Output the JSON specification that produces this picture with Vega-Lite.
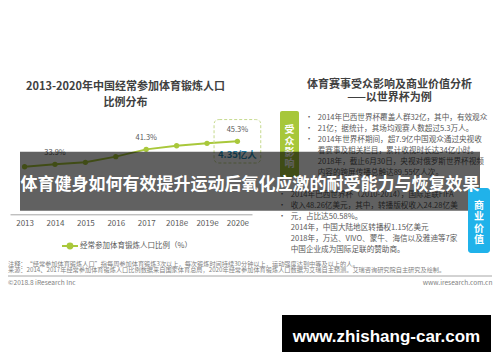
{
  "$schema": "https://vega.github.io/schema/vega-lite/v6.json",
  "width": 500,
  "height": 362,
  "autosize": "none",
  "padding": 0,
  "background": "white",
  "config": {"view": {"stroke": null}, "font": "Noto Sans CJK SC", "text": {"font": "Noto Sans CJK SC"}},
  "datasets": {
    "rate": [
      {"year": "2013", "value": 32.7, "series": "经常参加体育锻炼人口比例（%）"},
      {"year": "2014", "value": 33.9, "label": "33.9%", "series": "经常参加体育锻炼人口比例（%）"},
      {"year": "2015", "value": 34.9, "series": "经常参加体育锻炼人口比例（%）"},
      {"year": "2016", "value": 37.7, "series": "经常参加体育锻炼人口比例（%）"},
      {"year": "2017", "value": 41.3, "label": "41.3%", "series": "经常参加体育锻炼人口比例（%）"},
      {"year": "2018e", "value": 43.1, "series": "经常参加体育锻炼人口比例（%）"},
      {"year": "2019e", "value": 44.3, "series": "经常参加体育锻炼人口比例（%）"},
      {"year": "2020e", "value": 45.3, "label": "45.3%", "population": "4.35亿人", "series": "经常参加体育锻炼人口比例（%）"}
    ]
  },
  "layer": [
    {
      "data": {"name": "rate"},
      "mark": {"type": "line", "strokeWidth": 2},
      "encoding": {
        "x": {"field": "year", "type": "ordinal", "sort": null,
          "scale": {"type": "point", "range": [10, 252], "padding": 0.48},
          "axis": {"title": null, "labelAngle": 0, "ticks": false, "domainColor": "#a6a6a6", "labelColor": "#595959", "labelFontSize": 8, "labelFont": "Noto Sans CJK SC", "labelPadding": 5, "offset": -147.7, "grid": false}},
        "y": {"field": "value", "type": "quantitative",
          "scale": {"domain": [9, 60], "range": [214.6, 111.6], "nice": false, "zero": false}, "axis": null},
        "color": {"field": "series", "type": "nominal", "scale": {"range": ["#a9c83b"]},
          "legend": {"title": null, "orient": "none", "legendX": 61, "legendY": 237, "padding": 0,
            "symbolType": "M-1,0L-0.35,0M0.35,0L1,0M-0.3,0A0.3,0.3,0,1,1,0.3,0A0.3,0.3,0,1,1,-0.3,0Z",
            "symbolSize": 256, "symbolStrokeWidth": 2, "symbolFillColor": "#a9c83b",
            "labelFontSize": 7.5, "labelColor": "#595959", "labelFont": "Noto Sans CJK SC", "labelOffset": 1}}
      }
    },
    {
      "data": {"name": "rate"},
      "mark": {"type": "point", "filled": true, "size": 28, "color": "#a9c83b", "opacity": 1},
      "encoding": {
        "x": {"field": "year", "type": "ordinal", "sort": null},
        "y": {"field": "value", "type": "quantitative"}
      }
    },
    {
      "data": {"name": "rate"},
      "transform": [{"filter": "datum.label != null"}],
      "mark": {"type": "text", "dy": -11, "fontSize": 7.5, "color": "#595959"},
      "encoding": {
        "x": {"field": "year", "type": "ordinal", "sort": null},
        "y": {"field": "value", "type": "quantitative"},
        "text": {"field": "label"}
      }
    },
    {
      "data": {"name": "rate"},
      "transform": [{"filter": "datum.population != null"}],
      "mark": {"type": "text", "dy": 14, "fontSize": 9.5, "fontWeight": "bold", "color": "#2a8db8"},
      "encoding": {
        "x": {"field": "year", "type": "ordinal", "sort": null},
        "y": {"field": "value", "type": "quantitative"},
        "text": {"field": "population"}
      }
    },
    {
      "data": {"name": "rate"},
      "transform": [{"filter": "datum.population != null"}],
      "mark": {"type": "point", "shape": "M-0.78,-0.93L0.78,-0.93Q1,-0.93,1,-0.71L1,0.71Q1,0.93,0.78,0.93L-0.78,0.93Q-1,0.93,-1,0.71L-1,-0.71Q-1,-0.93,-0.78,-0.93Z", "size": 2181, "filled": false, "color": "#c5d98c", "stroke": "#c5d98c", "strokeWidth": 1, "strokeDash": [3, 2], "opacity": 1},
      "encoding": {
        "x": {"field": "year", "type": "ordinal", "sort": null},
        "y": {"field": "value", "type": "quantitative"}
      }
    },
    {
      "data": {"values": [{"t": "2013-2020年中国经常参加体育锻炼人口\n比例分布"}]},
      "mark": {"type": "text", "align": "center", "baseline": "top", "lineBreak": "\n", "lineHeight": 16.7, "fontSize": 11, "fontWeight": "bold", "color": "#404040"},
      "encoding": {"x": {"value": 125.5}, "y": {"value": 80.5}, "text": {"field": "t"}}
    },
    {
      "data": {"values": [{"t": "体育赛事受众影响及商业价值分析\n——以世界杯为例"}]},
      "mark": {"type": "text", "align": "center", "baseline": "top", "lineBreak": "\n", "lineHeight": 13.7, "fontSize": 11, "fontWeight": "bold", "color": "#404040"},
      "encoding": {"x": {"value": 389.5}, "y": {"value": 78.5}, "text": {"field": "t"}}
    },
    {
      "data": {"values": [{"t": "受众影响"}]},
      "mark": {"type": "rect", "color": "#a7c73a", "cornerRadius": 2},
      "encoding": {"x": {"value": 280}, "x2": {"value": 299}, "y": {"value": 111}, "y2": {"value": 177}}
    },
    {
      "data": {"values": [{"t": "受\n众\n影\n响"}]},
      "mark": {"type": "text", "align": "center", "baseline": "top", "lineBreak": "\n", "lineHeight": 11.2, "fontSize": 10, "fontWeight": "bold", "color": "white"},
      "encoding": {"x": {"value": 289.5}, "y": {"value": 125.4}, "text": {"field": "t"}}
    },
    {
      "data": {"values": [{"t": "•\n\n•\n\n•\n"}]},
      "mark": {"type": "text", "align": "center", "baseline": "top", "lineBreak": "\n", "lineHeight": 10.9, "fontSize": 7.6, "color": "#595959"},
      "encoding": {"x": {"value": 309}, "y": {"value": 114.1}, "text": {"field": "t"}}
    },
    {
      "data": {"values": [{"t": "2014年巴西世界杯覆盖人群32亿，其中，有效观众\n21亿；据统计，其场均观赛人数超过5.3万人。\n2014年世界杯期间，超7.9亿中国观众通过央视收\n看赛事及相关栏目，累计收视时长达34亿小时。\n2018年，截止6月30日，央视对俄罗斯世界杯视频\n内容的跨屏传播总触达89.55亿人次。"}]},
      "mark": {"type": "text", "align": "left", "baseline": "top", "lineBreak": "\n", "lineHeight": 10.9, "fontSize": 7.6, "color": "#595959"},
      "encoding": {"x": {"value": 317.7}, "y": {"value": 114.1}, "text": {"field": "t"}}
    },
    {
      "data": {"values": [{"t": "•\n\n\n•\n•\n"}]},
      "mark": {"type": "text", "align": "center", "baseline": "top", "lineBreak": "\n", "lineHeight": 11.06, "fontSize": 7.6, "color": "#595959"},
      "encoding": {"x": {"value": 282}, "y": {"value": 190.8}, "text": {"field": "t"}}
    },
    {
      "data": {"values": [{"t": "2014年巴西世界杯（2010-2014），国际足联FIFA\n收入48.26亿美元，其中，转播版权收入24.28亿美\n元，占比达50.58%。\n2014年，中国大陆地区转播权1.15亿美元\n2018年，万达、VIVO、蒙牛、海信以及雅迪等7家\n中国企业成为国际足联的赞助商。"}]},
      "mark": {"type": "text", "align": "left", "baseline": "top", "lineBreak": "\n", "lineHeight": 11.06, "fontSize": 7.6, "color": "#595959"},
      "encoding": {"x": {"value": 290.7}, "y": {"value": 190.8}, "text": {"field": "t"}}
    },
    {
      "data": {"values": [{"t": "注释：“经常参加体育锻炼人口”指每周参加体育锻炼3次以上，每次锻炼时间持续30分钟以上，运动强度达到中等及以上的人。\n来源：2014、2017年经常参加体育锻炼人口比例数据来自国家体育总局，2020年经常参加体育锻炼人口数据为艾瑞自主预测。艾瑞咨询研究院自主研究及绘制。"}]},
      "mark": {"type": "text", "align": "left", "baseline": "top", "lineBreak": "\n", "lineHeight": 6, "fontSize": 6.2, "color": "#7f7f7f"},
      "encoding": {"x": {"value": 8}, "y": {"value": 260.8}, "text": {"field": "t"}}
    },
    {
      "data": {"values": [{"t": "separator"}]},
      "mark": {"type": "rule", "color": "#a6a6a6", "strokeWidth": 1},
      "encoding": {"x": {"value": 8}, "x2": {"value": 492}, "y": {"value": 276}}
    },
    {
      "data": {"values": [{"t": "©2018.8 iResearch Inc"}]},
      "mark": {"type": "text", "align": "left", "baseline": "middle", "fontSize": 6.6, "color": "#7f7f7f"},
      "encoding": {"x": {"value": 8}, "y": {"value": 283}, "text": {"field": "t"}}
    },
    {
      "data": {"values": [{"t": "www.iresearch.com.cn"}]},
      "mark": {"type": "text", "align": "right", "baseline": "middle", "fontSize": 6.6, "color": "#7f7f7f"},
      "encoding": {"x": {"value": 492.5}, "y": {"value": 283}, "text": {"field": "t"}}
    },
    {
      "data": {"values": [{"t": "overlay"}]},
      "mark": {"type": "rect", "color": "black", "opacity": 0.62},
      "encoding": {"x": {"value": 20}, "x2": {"value": 480}, "y": {"value": 151.7}, "y2": {"value": 210.7}}
    },
    {
      "data": {"values": [{"t": "商业价值"}]},
      "mark": {"type": "rect", "color": "#20b2ea", "cornerRadius": 3},
      "encoding": {"x": {"value": 468}, "x2": {"value": 490}, "y": {"value": 188}, "y2": {"value": 253}}
    },
    {
      "data": {"values": [{"t": "商\n业\n价\n值"}]},
      "mark": {"type": "text", "align": "center", "baseline": "top", "lineBreak": "\n", "lineHeight": 11.5, "fontSize": 10, "fontWeight": "bold", "color": "white"},
      "encoding": {"x": {"value": 479}, "y": {"value": 200.9}, "text": {"field": "t"}}
    },
    {
      "data": {"values": [{"t": "体育健身如何有效提升运动后氧化应激的耐受能力与恢复效果"}]},
      "mark": {"type": "text", "align": "center", "baseline": "middle", "fontSize": 17, "fontWeight": "bold", "color": "white"},
      "encoding": {"x": {"value": 250}, "y": {"value": 184.7}, "text": {"field": "t"}}
    },
    {
      "data": {"values": [{"t": "www.zhishang-car.com"}]},
      "mark": {"type": "rect", "color": "black"},
      "encoding": {"x": {"value": 282}, "x2": {"value": 491}, "y": {"value": 315}, "y2": {"value": 352}}
    },
    {
      "data": {"values": [{"t": "www.zhishang-car.com"}]},
      "mark": {"type": "text", "align": "center", "baseline": "middle", "font": "Liberation Sans", "fontSize": 17, "fontWeight": "bold", "color": "white"},
      "encoding": {"x": {"value": 386.5}, "y": {"value": 336.6}, "text": {"field": "t"}}
    }
  ]
}
